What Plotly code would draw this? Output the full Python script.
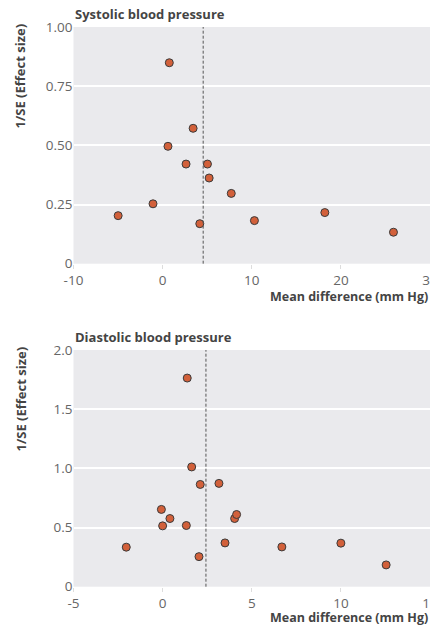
import plotly.graph_objects as go

# Systolic blood pressure funnel plot
sys_x = [0.75, 3.42, 0.6, 2.63, 5.03, 5.22, 7.7, -1.08, -4.99, 4.17, 10.3, 18.2, 25.9]
sys_y = [0.849, 0.572, 0.496, 0.421, 0.421, 0.362, 0.297, 0.253, 0.203, 0.169, 0.182, 0.216, 0.133]
sys_pooled = 4.55

# Diastolic blood pressure funnel plot
dia_x = [1.38, 1.63, 2.11, 3.16, -0.07, 0.41, 0.0, 1.33, 4.04, 4.15, 3.5, -2.04, 2.04, 6.69, 10.0, 12.54]
dia_y = [1.763, 1.012, 0.864, 0.873, 0.653, 0.576, 0.514, 0.517, 0.576, 0.610, 0.370, 0.334, 0.254, 0.336, 0.368, 0.184]
dia_pooled = 2.43

sys_xticks = [-10, 0, 10, 20, 30]
sys_xticktext = ["-10", "0", "10", "20", "30"]
sys_yticks = [0, 0.25, 0.5, 0.75, 1.0]
sys_yticktext = ["0", "0.25", "0.50", "0.75", "1.00"]
dia_xticks = [-5, 0, 5, 10, 15]
dia_xticktext = ["-5", "0", "5", "10", "15"]
dia_yticks = [0, 0.5, 1.0, 1.5, 2.0]
dia_yticktext = ["0", "0.5", "1.0", "1.5", "2.0"]

W, H = 438, 625
OFF = 8  # page body margin offset
FONT = "Open Sans"
BG = "#EAEAED"
MARK = "#D2603A"

def px_x(p):
    return (p - OFF) / W

def px_y(p):
    return 1 - (p - OFF) / H

xdom = [px_x(73.5), px_x(430)]
top_dom = [px_y(263.7), px_y(27)]
bot_dom = [px_y(586.7), px_y(350)]

marker = dict(size=8, color=MARK, line=dict(color="#3a3a3a", width=1))

fig = go.Figure()
fig.add_trace(go.Scatter(x=sys_x, y=sys_y, mode="markers", marker=marker,
                         xaxis="x", yaxis="y", showlegend=False, cliponaxis=False))
fig.add_trace(go.Scatter(x=dia_x, y=dia_y, mode="markers", marker=marker,
                         xaxis="x2", yaxis="y2", showlegend=False, cliponaxis=False))

tickfont = dict(family=FONT, size=13.5, color="#666666")
common_x = dict(showgrid=False, zeroline=False, showline=False, ticks="outside",
                ticklen=4, tickcolor="#dddddd", tickfont=tickfont, fixedrange=True,
                automargin=False)
common_y = dict(showgrid=True, gridcolor="white", gridwidth=1.5, zeroline=False,
                showline=False, ticks="", tickfont=tickfont, fixedrange=True,
                automargin=False)

fig.update_layout(
    width=W, height=H,
    margin=dict(l=0, r=0, t=0, b=0, pad=0, autoexpand=False),
    paper_bgcolor="white",
    plot_bgcolor=BG,
    xaxis=dict(domain=xdom, anchor="y", range=[-10, 30], tickvals=sys_xticks,
               ticktext=sys_xticktext, **common_x),
    yaxis=dict(domain=top_dom, anchor="x", range=[0, 1.0], tickvals=sys_yticks,
               ticktext=sys_yticktext, **common_y),
    xaxis2=dict(domain=xdom, anchor="y2", range=[-5, 15], tickvals=dia_xticks,
                ticktext=dia_xticktext, **common_x),
    yaxis2=dict(domain=bot_dom, anchor="x2", range=[0, 2.0], tickvals=dia_yticks,
                ticktext=dia_yticktext, **common_y),
)

dash = dict(color="#555555", width=1, dash="3px,2px")
fig.add_shape(type="line", xref="x", yref="y domain", x0=sys_pooled, x1=sys_pooled,
              y0=0, y1=1, line=dash)
fig.add_shape(type="line", xref="x2", yref="y2 domain", x0=dia_pooled, x1=dia_pooled,
              y0=0, y1=1, line=dash)

titlefont = dict(family=FONT, size=13, color="#444444")
xtfont = dict(family=FONT, size=12.5, color="#444444")
ytfont = dict(family=FONT, size=13, color="#444444")
anns = [
    dict(text="<b>Systolic blood pressure</b>", x=px_x(73), y=px_y(14.5), xanchor="left", yanchor="middle", font=titlefont),
    dict(text="<b>Diastolic blood pressure</b>", x=px_x(73), y=px_y(336.5), xanchor="left", yanchor="middle", font=titlefont),
    dict(text="<b>Mean difference (mm Hg)</b>", x=px_x(430), y=px_y(297), xanchor="right", yanchor="middle", font=xtfont),
    dict(text="<b>Mean difference (mm Hg)</b>", x=px_x(430), y=px_y(617), xanchor="right", yanchor="middle", font=xtfont),
    dict(text="<b>1/SE (Effect size)</b>", x=px_x(20), y=px_y(22), xanchor="center", yanchor="top", textangle=-90, font=ytfont),
    dict(text="<b>1/SE (Effect size)</b>", x=px_x(20), y=px_y(345), xanchor="center", yanchor="top", textangle=-90, font=ytfont),
]
for a in anns:
    fig.add_annotation(xref="paper", yref="paper", showarrow=False, **a)

fig.write_html("out.html")
